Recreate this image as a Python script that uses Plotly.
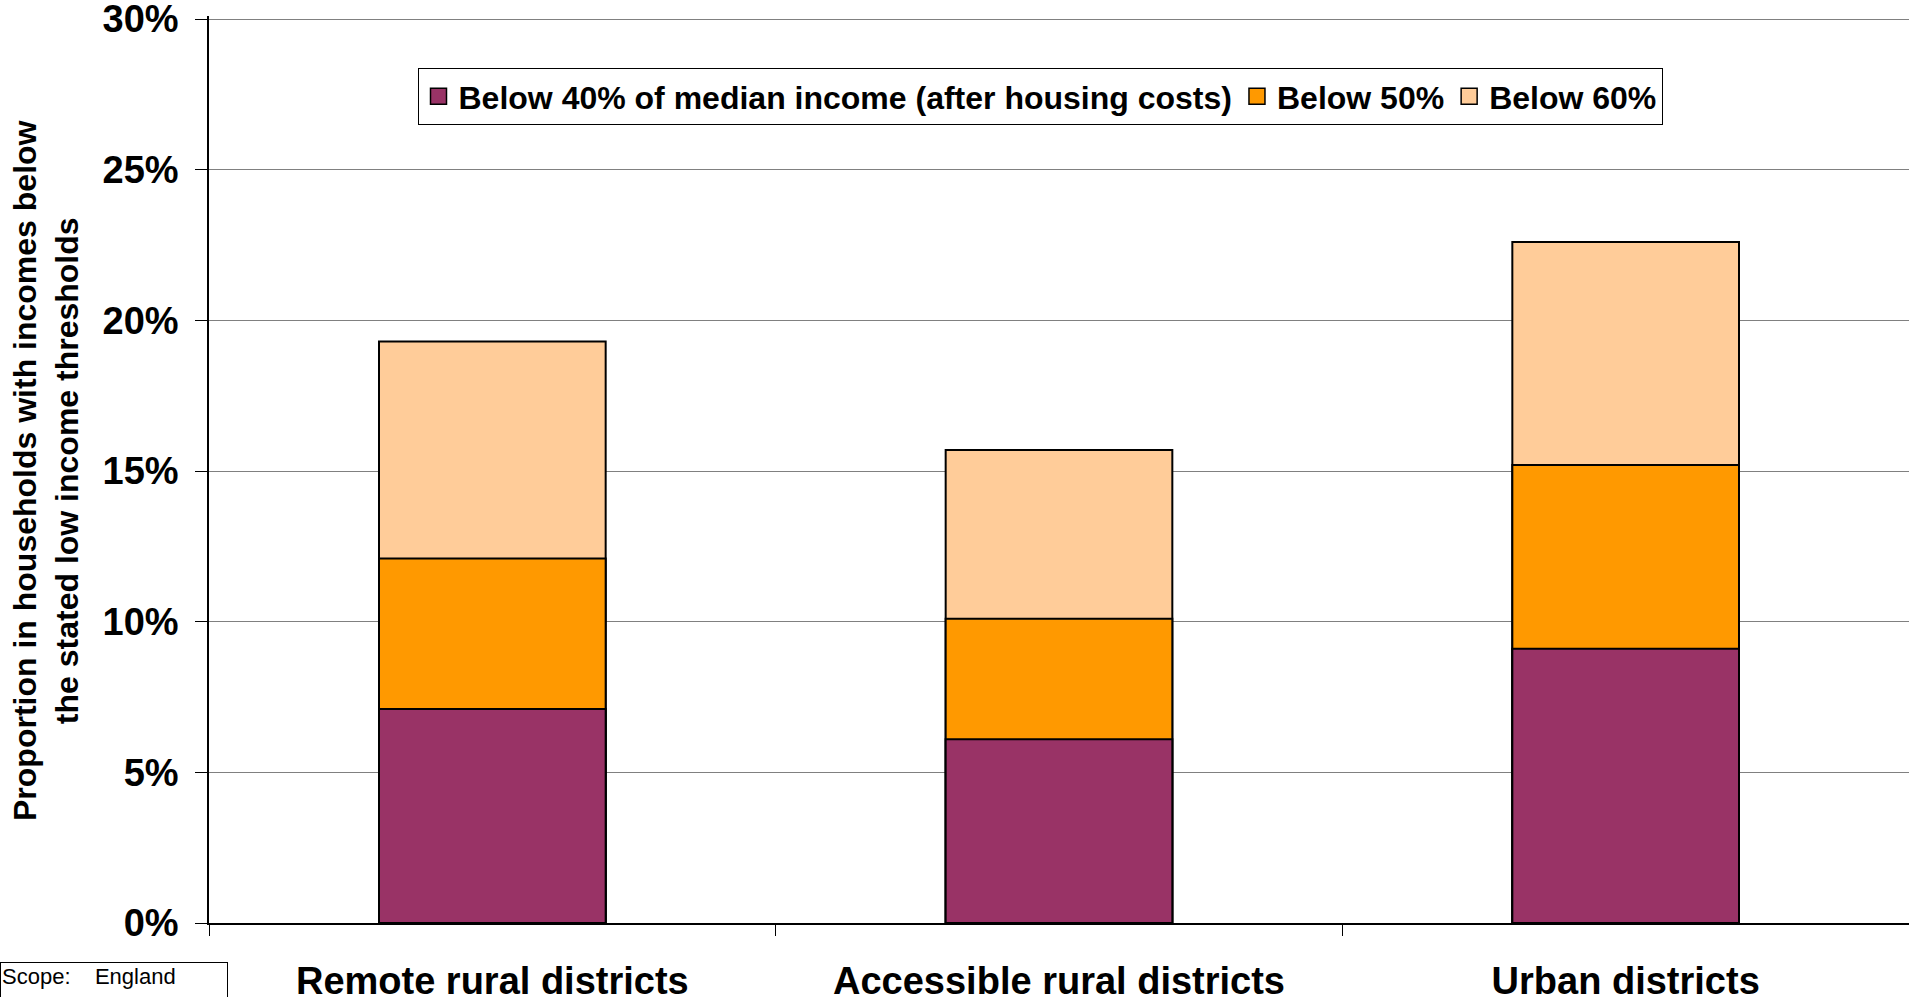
import plotly.graph_objects as go

categories = ["Remote rural districts", "Accessible rural districts", "Urban districts"]
# cumulative proportions of households below each threshold
below_40 = [0.071, 0.061, 0.091]
below_50 = [0.121, 0.101, 0.152]
below_60 = [0.193, 0.157, 0.226]

series_names = ["Below 40% of median income (after housing costs)", "Below 50%", "Below 60%"]
series_values = [below_40, below_50, below_60]
series_colors = ["#993366", "#FF9900", "#FFCC99"]

y_ticks = [0, 0.05, 0.10, 0.15, 0.20, 0.25, 0.30]

FONT = "Liberation Sans, Arial, sans-serif"

fig = go.Figure()
# draw the widest threshold first so narrower ones overlay it
for name, vals, col in reversed(list(zip(series_names, series_values, series_colors))):
    fig.add_trace(go.Bar(
        x=categories, y=vals, name=name,
        marker=dict(color=col, line=dict(color="black", width=2)),
        showlegend=False,
    ))
# legend entries with larger square swatches
for rank, (name, col) in enumerate(zip(series_names, series_colors)):
    fig.add_trace(go.Scatter(
        x=[None], y=[None], mode="markers", name=name,
        marker=dict(symbol="square", size=16, color=col, line=dict(color="black", width=1.5)),
        legendrank=rank + 1, hoverinfo="skip",
    ))

W, H = 1909, 997
Y_TOP = 0.301
px_per_unit = (923 - 19) / 0.30
plot_top = 923 - Y_TOP * px_per_unit
ml, mr, mt, mb = 209, 0, plot_top, 997 - 923
pw = W - ml - mr
ph = H - mt - mb

def ypaper(py):
    return (923 - py) / ph

fig.update_layout(
    width=W, height=H,
    margin=dict(l=ml, r=mr, t=mt, b=mb, autoexpand=False),
    paper_bgcolor="white", plot_bgcolor="white",
    barmode="overlay", bargap=0.6,
    showlegend=True,
    legend=dict(
        orientation="h",
        x=(1040 - ml) / pw, xanchor="center",
        y=ypaper(68), yanchor="top",
        bgcolor="white", bordercolor="black", borderwidth=1,
        font=dict(family=FONT, size=32, color="black", weight="bold"),
        itemsizing="trace",
        traceorder="normal",
        itemclick=False,
    ),
    xaxis=dict(
        type="category",
        showgrid=False,
        showline=True, linecolor="black", linewidth=2,
        ticks="outside", tickson="boundaries", ticklen=11, tickcolor="black", tickwidth=1,
        tickfont=dict(family=FONT, size=38, color="black", weight="bold"),
        ticklabelstandoff=23,
        automargin=False,
    ),
    yaxis=dict(
        range=[0, Y_TOP],
        tickmode="array", tickvals=y_ticks,
        tickformat=".0%",
        showgrid=True, gridcolor="#808080", gridwidth=1,
        zeroline=False,
        showline=True, linecolor="black", linewidth=1.5,
        ticks="outside", ticklen=12, tickcolor="black", tickwidth=1,
        tickfont=dict(family=FONT, size=38, color="black", weight="bold"),
        ticklabelstandoff=9,
        ticklabeloverflow="allow",
        automargin=False,
    ),
    annotations=[
        dict(
            text="Proportion in households with incomes below<br>the stated low income thresholds",
            xref="paper", yref="paper", x=0, y=ypaper(471),
            xanchor="center", yanchor="middle", xshift=46 - ml,
            textangle=-90, showarrow=False,
            font=dict(family=FONT, size=32, color="black", weight="bold"),
        ),
        dict(
            text="Scope:\u00a0\u00a0\u00a0\u00a0England<br>Year:\u00a0\u00a0\u00a0\u00a0\u00a0\u00a0\u00a02004/05",
            xref="paper", yref="paper",
            x=-ml / pw, y=ypaper(962),
            xanchor="left", yanchor="top",
            align="left", width=224,
            showarrow=False,
            bordercolor="black", borderwidth=1, borderpad=1, bgcolor="white",
            font=dict(family=FONT, size=22, color="black"),
        ),
    ],
)

fig.write_html("out.html", config={"displayModeBar": False},
               post_script="document.body.style.margin='0';")
